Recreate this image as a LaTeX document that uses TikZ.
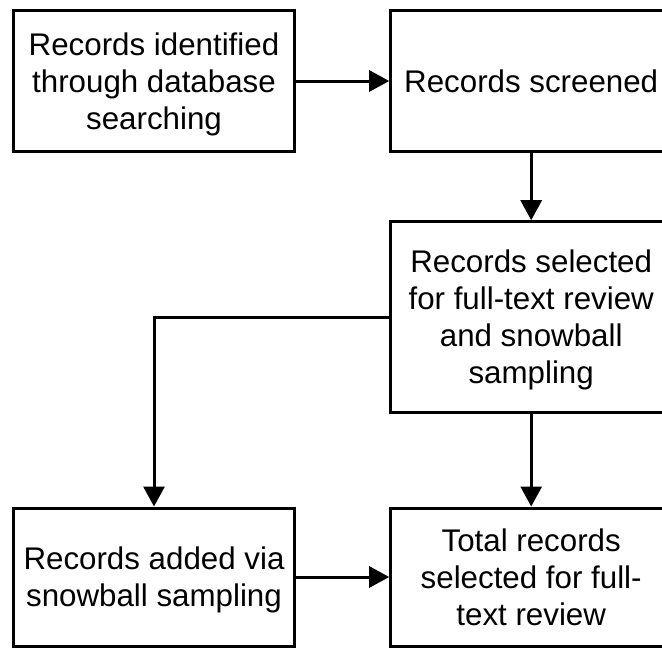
\documentclass[tikz,border=0pt]{standalone}
\usepackage{fontspec}
\setmainfont{Liberation Sans}
\usetikzlibrary{arrows.meta}

% fixed-size strut so every text line occupies the same band
\newcommand\lnstrut{\rule[-7.5pt]{0pt}{37pt}}

\tikzset{
  stepbox/.style={draw=black, line width=3pt, rectangle, align=center,
    minimum width=281pt, inner sep=0pt,
    font=\fontsize{31.3}{37}\selectfont},
  flow/.style={draw=black, line width=3pt,
    -{Triangle[length=20pt,width=21pt]}},
}

\begin{document}
\begin{tikzpicture}[x=1pt,y=1pt]
  \useasboundingbox (0,0) rectangle (662,-648);

  \node[stepbox, minimum height=141pt] (ident) at (154,-81)
    {\lnstrut Records identified\\\lnstrut through database\\\lnstrut searching};
  \node[stepbox, minimum height=141pt] (screen) at (531.2,-81)
    {\lnstrut Records screened};
  \node[stepbox, minimum height=190.6pt] (select) at (531.2,-317)
    {\lnstrut Records selected\\\lnstrut for full-text review\\\lnstrut and snowball\\\lnstrut sampling};
  \node[stepbox, minimum height=138pt] (added) at (154,-577)
    {\lnstrut Records added via\\\lnstrut snowball sampling};
  \node[stepbox, minimum height=138pt] (total) at (531.2,-577)
    {\lnstrut Total records\\\lnstrut selected for full-\\\lnstrut text review};

  \draw[flow] (ident) -- (screen);
  \draw[flow] (screen) -- (select);
  \draw[flow] (select.west) -| (added.north);
  \draw[flow] (select) -- (total);
  \draw[flow] (added) -- (total);
\end{tikzpicture}
\end{document}
